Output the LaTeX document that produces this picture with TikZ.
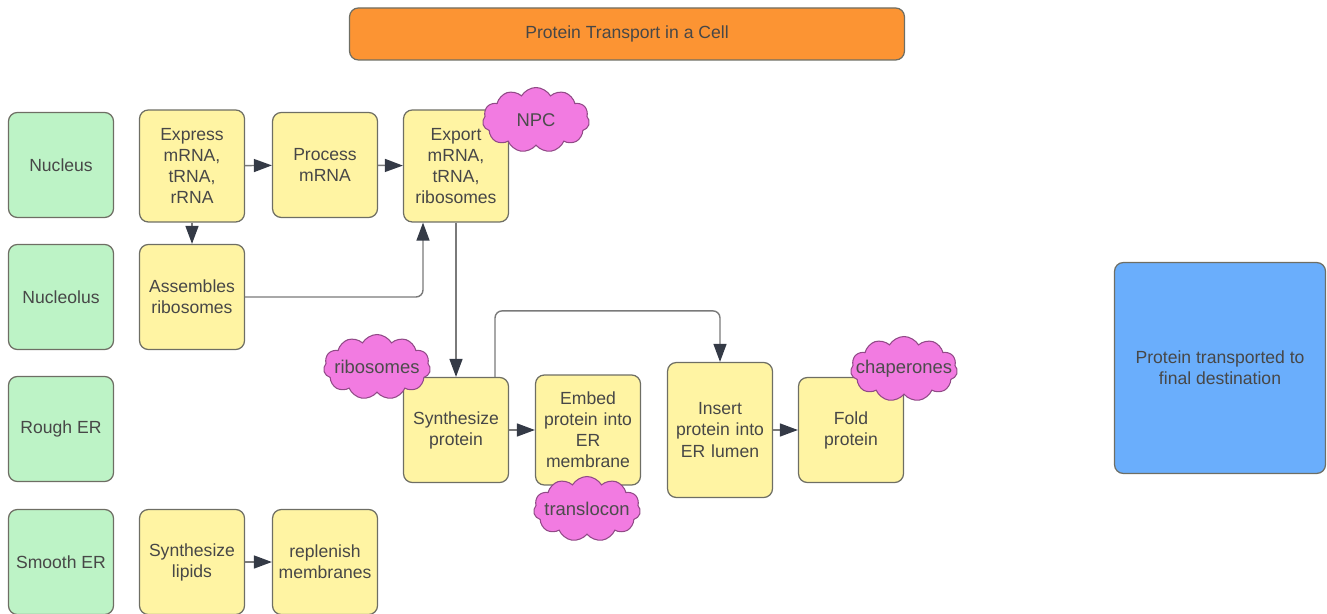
\documentclass[tikz,border=0pt]{standalone}
\usepackage{fontspec}
\setmainfont{Liberation Sans}
\usetikzlibrary{arrows.meta,shapes.symbols}
\definecolor{orangefill}{HTML}{FC9433}
\definecolor{greenfill}{HTML}{BDF3C6}
\definecolor{yellowfill}{HTML}{FFF4A3}
\definecolor{bluefill}{HTML}{6AAEFC}
\definecolor{pinkfill}{HTML}{F27BE1}
\definecolor{edgegray}{HTML}{6E6E64}
\definecolor{linkgray}{HTML}{7A7A7A}
\definecolor{tipgray}{HTML}{343A46}
\begin{document}
\begin{tikzpicture}[x=0.02cm, y=-0.02cm,
font=\fontsize{10}{12}\selectfont,
base/.style={draw=edgegray, rounded corners=5pt, line width=0.7pt, align=center,
text=black!72, inner sep=2pt},
title/.style={base, fill=orangefill, minimum width=11.1cm, minimum height=1.04cm},
region/.style={base, fill=greenfill, minimum width=2.1cm, minimum height=2.1cm},
task/.style={base, fill=yellowfill, text width=1.95cm, minimum width=2.1cm, minimum height=2.1cm},
goal/.style={base, fill=bluefill, minimum width=4.22cm, minimum height=4.22cm},
helper/.style={cloud, cloud puffs=11, cloud puff arc=120, aspect=1.65, draw=pinkfill!60!black,
line width=0.6pt, fill=pinkfill, minimum width=2.14cm, minimum height=1.3cm, inner sep=0pt,
label={[text=black!70, font=\fontsize{10.5}{12}\selectfont]center:#1}},
arrow/.style={draw=linkgray, line width=0.8pt, -{Triangle[length=0.36cm, width=0.26cm, color=tipgray]}}
]
\useasboundingbox (0,0) rectangle (1327,614);
\node[title] (title) at (627,34) {Protein Transport in a Cell};
\node[region] (nucleus) at (61,165) {Nucleus};
\node[region] (nucleolus) at (61,297) {Nucleolus};
\node[region] (rough) at (61,429) {Rough ER};
\node[region] (smooth) at (61,562) {Smooth ER};
\node[task, minimum height=2.24cm] (express) at (192,166) {Express\\mRNA,\\tRNA,\\rRNA};
\node[task] (process) at (325,165) {Process\\mRNA};
\node[task, minimum height=2.24cm] (export) at (456,166) {Export\\mRNA,\\tRNA,\\ribosomes};
\node[task] (assemble) at (192,297) {Assembles\\ribosomes};
\node[task] (synth) at (456,430) {Synthesize\\protein};
\node[task, minimum height=2.2cm] (embed) at (588,430) {Embed\\protein into\\ER\\membrane};
\node[task, minimum height=2.7cm] (insert) at (720,430) {Insert\\protein into\\ER lumen};
\node[task] (fold) at (851,430) {Fold\\protein};
\node[task] (lipids) at (192,562) {Synthesize\\lipids};
\node[task] (replenish) at (325,562) {replenish\\membranes};
\node[goal] (final) at (1220,368) {Protein transported to\\final destination};
\node[helper=NPC] (npc) at (536,120) {};
\node[helper=ribosomes] (ribo) at (377,367) {};
\node[helper=translocon] (transloc) at (587,509) {};
\node[helper=chaperones] (chaperone) at (904,369) {};
\draw[arrow] (express) -- (process);
\draw[arrow] (process) -- (export);
\draw[arrow] (express) -- (assemble);
\draw[arrow, rounded corners=4pt] (assemble.east) -| ([xshift=-0.66cm]export.south);
\draw[arrow] (export) -- (synth);
\draw[arrow, rounded corners=4pt] ([xshift=0.78cm]synth.north) -- ++(0,-66) -| (insert.north);
\draw[arrow] (synth) -- (embed);
\draw[arrow] (insert) -- (fold);
\draw[arrow] (lipids) -- (replenish);
\end{tikzpicture}
\end{document}
